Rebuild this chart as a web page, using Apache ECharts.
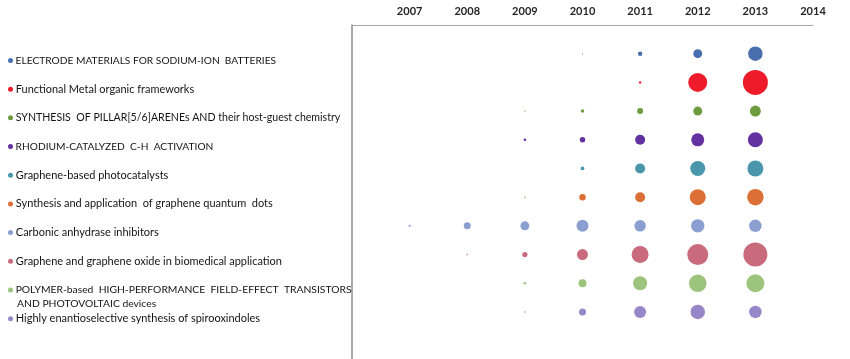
<!DOCTYPE html>
<html>
<head>
<meta charset="utf-8">
<script src="https://cdn.jsdelivr.net/npm/echarts@6/dist/echarts.min.js"></script>
<style>html,body{margin:0;padding:0;background:#fff;}#c{width:850px;height:359px;}</style>
</head>
<body>
<div id="c"></div>
<script>
var years = [2007, 2008, 2009, 2010, 2011, 2012, 2013];
var yearLabels = ['2007', '2008', '2009', '2010', '2011', '2012', '2013', '2014'];
var topics = [
  'ELECTRODE MATERIALS FOR SODIUM-ION  BATTERIES',
  'Functional Metal organic frameworks',
  'SYNTHESIS  OF PILLAR[5/6]ARENEs AND their host-guest chemistry',
  'RHODIUM-CATALYZED  C-H  ACTIVATION',
  'Graphene-based photocatalysts',
  'Synthesis and application  of graphene quantum  dots',
  'Carbonic anhydrase inhibitors',
  'Graphene and graphene oxide in biomedical application',
  'POLYMER-based  HIGH-PERFORMANCE  FIELD-EFFECT  TRANSISTORS\nAND PHOTOVOLTAIC devices',
  'Highly enantioselective synthesis of spirooxindoles'
];
var colors = ['#4A6FAE', '#EE1C2B', '#6F9B3F', '#6431A0', '#4A97AB', '#DC6F35', '#8A9FD0', '#C96B7D', '#9CC47C', '#9887C8'];
// values per year 2007..2013 (null = no bubble)
var electrode  = [null, null, null, 1, 20, 80, 210];
var mof        = [null, null, null, null, 6, 360, 625];
var pillar     = [null, null, 2, 12, 36, 80, 120];
var rhodium    = [null, null, 7, 30, 100, 170, 225];
var photocat   = [null, null, null, 14, 100, 225, 256];
var gqd        = [null, null, 2, 42, 100, 256, 270];
var carbonic   = [5, 49, 81, 144, 132, 180, 156];
var biomed     = [null, 2, 27, 121, 289, 441, 576];
var polymer    = [null, null, 7, 64, 196, 306, 324];
var spiro      = [null, null, 2, 49, 144, 210, 156];
var seriesValues = [electrode, mof, pillar, rhodium, photocat, gqd, carbonic, biomed, polymer, spiro];

var rich = { sp: { width: 9 } };
topics.forEach(function (t, i) {
  var letters = t.replace(/[^A-Za-z]/g, '');
  var upper = t.replace(/[^A-Z]/g, '').length / Math.max(1, letters.length);
  rich['d' + i] = { width: 5, height: 5, borderRadius: 2.5, backgroundColor: colors[i] };
  rich['t' + i] = { fontFamily: 'Lato', fontSize: 11 - 0.8 * upper, color: '#141414', lineHeight: 13.5 };
});

var series = seriesValues.map(function (vals, i) {
  var data = [];
  vals.forEach(function (v, j) {
    if (v != null) data.push([years[j], i + 1, v]);
  });
  return {
    type: 'scatter',
    name: topics[i],
    data: data,
    symbolSize: function (d) { return Math.sqrt(d[2]); },
    itemStyle: { color: colors[i], opacity: 1 },
    emphasis: { disabled: true },
    silent: true
  };
});

var chart = echarts.init(document.getElementById('c'), null, { renderer: 'canvas' });
chart.setOption({
  animation: false,
  backgroundColor: '#fff',
  grid: { left: 352, top: 25, width: 461, bottom: 0 },
  xAxis: {
    type: 'value', position: 'top', min: 2006, max: 2014, interval: 1,
    axisLine: { show: true, lineStyle: { color: '#a6a6a6', width: 1 } },
    axisTick: { show: false },
    splitLine: { show: false },
    axisLabel: {
      margin: 8, fontFamily: 'Lato', fontSize: 11, fontWeight: 'bold', color: '#262626',
      formatter: function (v) { var k = yearLabels.indexOf(String(v)); return k >= 0 ? yearLabels[k] : ''; }
    }
  },
  yAxis: {
    type: 'value', inverse: true, min: 0, max: 11.64, interval: 1,
    axisLine: { show: true, lineStyle: { color: '#8c8c8c', width: 1.5 } },
    axisTick: { show: false },
    splitLine: { show: false },
    axisLabel: {
      margin: 344, align: 'left', verticalAlign: 'top', showMaxLabel: false,
      formatter: function (v) {
        var i = Math.round(v) - 1;
        if (i < 0 || i >= topics.length || Math.abs(v - i - 1) > 1e-6) return '';
        var lines = topics[i].split('\n');
        var s = '{d' + i + '|}{t' + i + '| ' + lines[0] + '}';
        for (var k = 1; k < lines.length; k++) s += '\n{sp|}{t' + i + '|' + lines[k] + '}';
        return s;
      },
      rich: rich
    }
  },
  series: series
});
</script>
</body>
</html>
